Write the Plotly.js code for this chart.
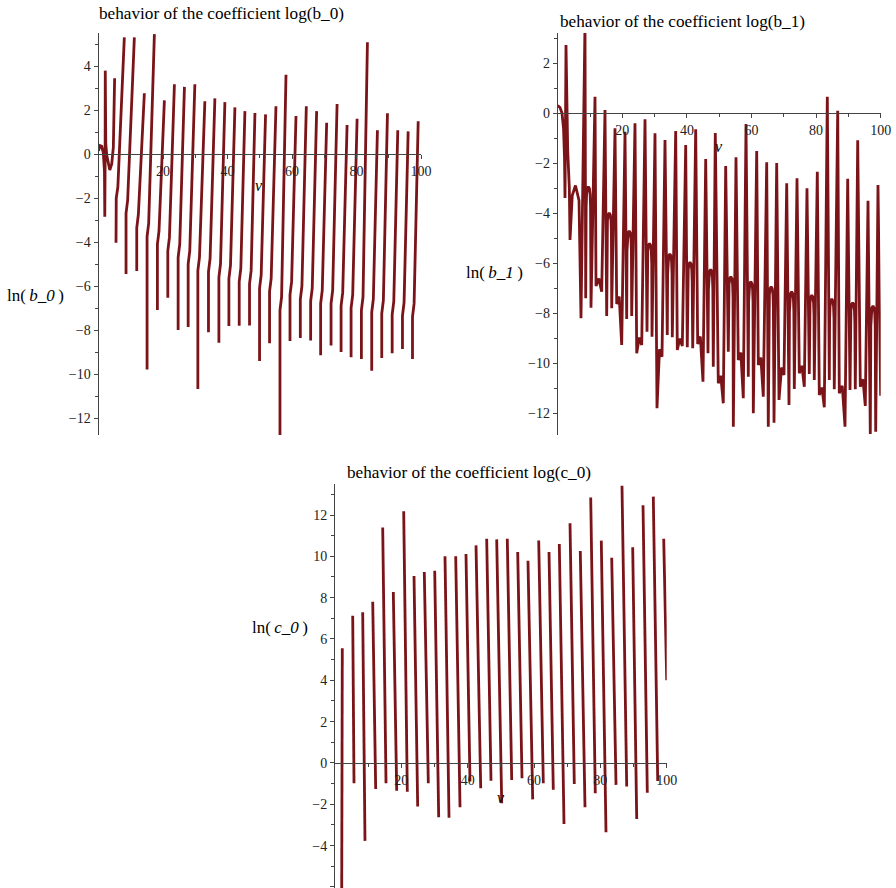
<!DOCTYPE html>
<html><head><meta charset="utf-8">
<script src="https://cdn.plot.ly/plotly-3.0.1.min.js"></script>
<style>html,body{margin:0;padding:0;background:#fff}#chart{width:896px;height:888px}</style>
</head><body><div id="chart"></div>
<script>
// ---- panel 1: ln(b_0) vs v (branches separated by null) ----
const b0_v = [0,0.5,1.0,1.5,1.85,1.95,2.05,2.1,2.25,2.55,3.0,3.5,4.1,4.6,5.0,null,
5.43,5.5,6.0,8.01,null, 8.54,8.54,9.04,11.12,null, 11.86,11.86,12.36,14.22,null,
15.06,15.06,15.56,17.33,null, 18.26,18.26,18.76,20.43,null, 21.49,21.49,21.99,23.54,null,
24.69,24.69,25.19,26.65,null, 27.80,27.80,28.30,29.88,null, 30.81,30.81,31.31,32.98,null,
34.10,34.10,34.60,36.09,null, 37.33,37.33,37.83,39.19,null, 40.43,40.43,40.93,42.30,null,
43.63,43.63,44.13,45.40,null, 46.83,46.83,47.33,48.51,null, 49.94,49.94,50.44,51.80,null,
53.04,53.04,53.54,55.03,null, 56.27,56.27,56.77,58.14,null, 59.38,59.38,59.88,61.24,null,
62.58,62.58,63.08,64.44,null, 65.78,65.78,66.28,67.64,null, 68.88,68.88,69.38,70.75,null,
72.11,72.11,72.61,73.98,null, 75.22,75.22,75.72,77.08,null, 78.32,78.32,78.82,80.19,null,
81.52,81.52,82.02,83.39,null, 84.72,84.72,85.22,86.49,null, 87.83,87.83,88.33,89.60,null,
91.06,91.06,91.56,92.80,null, 94.25,94.25,94.75,96.02,null, 97.36,97.36,97.86,99.13];
const b0_ln = [0.15,0.38,0.35,0.05,-0.8,-2.85,-0.5,3.79,0.5,-0.05,-0.45,-0.73,-0.45,0.3,3.44,null,
-4.03,-2.0,-1.5,5.3,null, -5.45,-2.7,-2.1,5.3,null, -5.32,-3.35,-2.75,2.76,null,
-9.79,-3.75,-3.15,5.45,null, -7.09,-4.1,-3.5,2.44,null, -6.53,-4.4,-3.8,3.17,null,
-8.0,-4.7,-4.1,3.05,null, -7.86,-5.0,-4.4,3.17,null, -10.68,-5.3,-4.7,2.4,null,
-8.1,-5.35,-4.75,2.53,null, -8.58,-5.6,-5.0,2.36,null, -7.82,-5.66,-5.06,2.12,null,
-7.8,-5.8,-5.2,1.95,null, -7.79,-5.9,-5.3,1.86,null, -9.41,-6.1,-5.5,1.8,null,
-8.6,-6.25,-5.65,2.17,null, -13.0,-7.1,-6.5,3.6,null, -8.5,-6.4,-5.8,1.73,null,
-8.36,-6.6,-6.0,2.17,null, -8.47,-6.7,-6.1,1.95,null, -9.14,-6.8,-6.2,1.42,null,
-8.7,-6.8,-6.2,2.27,null, -9.0,-6.9,-6.3,1.32,null, -9.24,-7.0,-6.4,1.6,null,
-9.32,-7.1,-6.5,5.08,null, -9.85,-7.2,-6.6,1.08,null, -9.27,-7.25,-6.65,1.85,null,
-9.06,-7.3,-6.7,1.08,null, -8.86,-7.35,-6.75,1.03,null, -9.32,-7.4,-6.8,1.49];

// ---- panel 2: ln(b_1) vs v (one continuous curve) ----
const b1_v = [0,0.71,1.33,1.80,2.11,2.26,2.57,3.1,3.6,3.81,4.5,5.5,6.6,
7.21,8.45,8.67,
8.81,8.94,9.14,9.49,9.84,10.04,10.17,
10.31,11.55,11.86, 12.74,
13.62,14.64,15.17,
15.27,15.40,15.60,15.95,16.30,16.50,16.63,
16.72,17.74,18.27, 19.04,
19.81,20.84,21.36,
21.46,21.59,21.79,22.14,22.49,22.69,22.82,
22.91,23.93,24.46, 25.24,
26.01,27.03,27.65,
27.75,27.88,28.08,28.43,28.78,28.98,29.11,
29.20,30.12,30.74, 31.52,
32.29,33.22,33.93,
34.03,34.16,34.36,34.71,35.06,35.26,35.39,
35.48,36.53,37.03, 37.8,
38.58,39.63,40.12,
40.28,40.41,40.61,40.96,41.31,41.51,41.64,
41.80,42.72,43.34, 44.16,
44.98,45.82,46.53,
46.67,46.80,47.00,47.35,47.70,47.90,48.03,
48.17,48.79,49.72, 50.5,
51.27,52.01,52.82,
52.92,53.05,53.25,53.60,53.95,54.15,54.28,
54.37,55.20,55.91, 56.7,
57.46,58.30,59.01,
59.11,59.24,59.44,59.79,60.14,60.34,60.47,
60.56,61.61,62.11, 62.9,
63.65,64.71,65.20,
65.41,65.54,65.74,66.09,66.44,66.64,66.77,
66.97,67.80,68.51, 69.3,
70.06,70.90,71.61,
71.75,71.88,72.08,72.43,72.78,72.98,73.11,
73.25,74.09,74.80, 75.6,
76.35,77.18,77.89,
77.99,78.12,78.32,78.67,79.02,79.22,79.35,
79.44,80.37,80.99, 81.8,
82.54,83.47,84.09,
84.18,84.31,84.51,84.86,85.21,85.41,85.54,
85.63,86.69,87.18, 88.1,
88.95,89.78,90.50,
90.64,90.77,90.97,91.32,91.67,91.87,92.00,
92.14,92.88,93.68, 94.5,
95.23,96.07,96.78,
96.94,97.07,97.27,97.62,97.97,98.17,98.30,
98.45,99.16,99.98];
const b1_ln = [0.3,0.22,0.0,-0.6,-1.8,-3.4,2.72,-1.5,-3.0,-5.08,-3.3,-2.9,-3.5,
-8.21,3.6,-7.41,
-3.75,-3.25,-3.03,-2.95,-3.03,-3.25,-3.75,
-7.79,0.65,-6.92, -6.62,
-7.15,0.12,-8.12,
-4.8,-4.3,-4.08,-4.0,-4.08,-4.3,-4.8,
-7.81,-0.61,-7.64, -7.34,
-9.28,-0.75,-8.24,
-5.52,-5.02,-4.8,-4.72,-4.8,-5.02,-5.52,
-8.12,-0.41,-9.61, -8.98,
-9.28,-0.25,-8.75,
-6.02,-5.52,-5.3,-5.22,-5.3,-5.52,-6.02,
-8.95,-0.81,-11.81, -9.45,
-9.75,-1.08,-8.88,
-6.44,-5.94,-5.72,-5.64,-5.72,-5.94,-6.44,
-8.97,-0.72,-9.48, -9.02,
-9.32,-1.28,-9.37,
-6.77,-6.27,-6.05,-5.97,-6.05,-6.27,-6.77,
-9.41,-0.65,-9.24, -8.94,
-10.75,-1.84,-9.61,
-7.06,-6.56,-6.34,-6.26,-6.34,-6.56,-7.06,
-10.15,-0.8,-10.81, -10.51,
-11.61,-2.12,-9.55,
-7.35,-6.85,-6.63,-6.55,-6.63,-6.85,-7.35,
-12.55,-1.77,-9.88, -9.58,
-11.41,-0.44,-10.55,
-7.55,-7.05,-6.83,-6.75,-6.83,-7.05,-7.55,
-12.01,-1.52,-10.08, -9.78,
-11.35,-1.97,-12.55,
-7.75,-7.25,-7.03,-6.95,-7.03,-7.25,-7.75,
-12.39,-2.0,-11.48, -10.18,
-10.48,-2.81,-11.68,
-7.95,-7.45,-7.23,-7.15,-7.23,-7.45,-7.95,
-11.04,-2.61,-10.41, -10.11,
-10.95,-3.01,-10.44,
-8.09,-7.59,-7.37,-7.29,-7.37,-7.59,-8.09,
-10.68,-2.35,-11.28, -10.98,
-11.77,0.65,-10.68,
-8.24,-7.74,-7.52,-7.44,-7.52,-7.74,-8.24,
-11.05,0.09,-11.21, -10.91,
-12.55,-2.63,-11.08,
-8.39,-7.89,-7.67,-7.59,-7.67,-7.89,-8.39,
-11.05,-1.09,-10.95, -10.65,
-11.72,-3.51,-12.84,
-8.52,-8.02,-7.80,-7.72,-7.80,-8.02,-8.52,
-12.75,-2.88,-11.31];

// ---- panel 3: ln(c_0) vs v ----
const c0_v = [2.20,2.02,null, 5.34,5.73,null, 8.35,9.04,null, 11.37,12.27,null, 14.38,15.38,null,
17.58,18.60,null, 20.71,21.80,null, 23.82,24.93,null, 26.92,28.13,null, 30.06,31.26,null,
33.16,34.37,null, 36.39,37.69,null, 39.49,40.70,null, 42.51,43.93,null, 45.73,47.03,null,
48.75,50.26,null, 51.94,53.27,null, 55.08,56.38,null, 58.18,59.60,null, 61.41,62.80,null,
64.52,65.81,null, 67.62,69.04,null, 70.85,72.14,null, 73.95,75.37,null, 77.09,78.47,null,
80.28,81.70,null, 83.42,84.72,null, 86.52,87.94,null, 89.75,90.96,null, 92.86,94.15,null,
95.96,97.29,null, 99.10,100.0];
const c0_ln = [5.55,-6.3,null, 7.13,-0.98,null, 7.29,-3.77,null, 7.80,-1.26,null, 11.40,-0.98,null,
8.27,-1.34,null, 12.18,-1.39,null, 9.05,-2.11,null, 9.24,-0.98,null, 9.30,-2.63,null,
10.0,-2.65,null, 10.0,-2.14,null, 10.11,-0.9,null, 10.53,-1.22,null, 10.85,-0.86,null,
10.82,-1.95,null, 10.85,-0.82,null, 10.21,-0.74,null, 9.79,-1.76,null, 10.77,-0.98,null,
10.21,-1.3,null, 10.6,-2.95,null, 11.6,-1.02,null, 10.26,-2.14,null, 12.85,-1.47,null,
10.76,-3.35,null, 9.93,-1.06,null, 13.42,-1.14,null, 10.44,-2.71,null, 12.47,-1.44,null,
12.89,-0.87,null, 10.85,4.0];

const xTickVals = [20,40,60,80,100];
const titles = ['behavior of the coefficient log(b_0)','behavior of the coefficient log(b_1)','behavior of the coefficient log(c_0)'];
const yLabels = ['ln(\u2009<i>b_0</i>\u2009)','ln(\u2009<i>b_1</i>\u2009)','ln(\u2009<i>c_0</i>\u2009)'];

const W = 896, H = 888;
const serif = 'Liberation Serif, Times New Roman, serif';
const curveColor = '#7b1418';
const px = x => x / W, py = y => 1 - y / H;

function trace(x, y, xa, ya) {
  return {x: x, y: y, xaxis: xa, yaxis: ya, type: 'scatter', mode: 'lines',
    line: {color: curveColor, width: 2.8}, connectgaps: false, hoverinfo: 'skip'};
}
const data = [trace(b0_v, b0_ln, 'x', 'y'), trace(b1_v, b1_ln, 'x2', 'y2'), trace(c0_v, c0_ln, 'x3', 'y3')];

function xAxis(dom, pos) {
  return {domain: dom, range: [0, 100], anchor: 'free', position: pos,
    showgrid: false, zeroline: false, showline: true, linecolor: '#444', linewidth: 1,
    ticks: 'outside', ticklen: 4, tickcolor: '#444', tickmode: 'array', tickvals: xTickVals,
    tickfont: {family: serif, size: 14, color: '#222'},
    minor: {tickmode: 'array', tickvals: [10,30,50,70,90], ticks: 'outside', ticklen: 3, tickcolor: '#444', showgrid: false},
    fixedrange: true};
}
function yAxis(dom, rng, xref) {
  return {domain: dom, range: rng, anchor: xref, showgrid: false, zeroline: false, showline: true,
    linecolor: '#444', linewidth: 1, ticks: 'outside', ticklen: 4, tickcolor: '#444',
    dtick: 2, tick0: 0, tickfont: {family: serif, size: 14, color: '#222'},
    minor: {dtick: 1, ticks: 'outside', ticklen: 3, tickcolor: '#444', showgrid: false},
    fixedrange: true};
}

const layout = {
  width: W, height: H, margin: {l: 0, r: 0, t: 0, b: 0}, showlegend: false,
  paper_bgcolor: '#fff', plot_bgcolor: 'rgba(0,0,0,0)',
  xaxis: xAxis([px(98.5), px(421)], py(154)),
  yaxis: yAxis([py(435), py(33)], [-12.77, 5.5], 'x'),
  xaxis2: xAxis([px(557.7), px(880.7)], py(113)),
  yaxis2: yAxis([py(435), py(33)], [-12.88, 3.2], 'x2'),
  xaxis3: xAxis([px(335), px(666.7)], py(763)),
  yaxis3: yAxis([py(888), py(484)], [-6.05, 13.5], 'x3'),
  annotations: [
    {text: titles[0], x: px(97), y: py(14), xanchor: 'left', yanchor: 'middle', font: {size: 17.2}},
    {text: titles[1], x: px(558), y: py(21), xanchor: 'left', yanchor: 'middle', font: {size: 17.2}},
    {text: titles[2], x: px(345), y: py(472), xanchor: 'left', yanchor: 'middle', font: {size: 17.2}},
    {text: yLabels[0], x: px(35), y: py(295), xanchor: 'center', yanchor: 'middle', font: {size: 17}},
    {text: yLabels[1], x: px(495), y: py(272), xanchor: 'center', yanchor: 'middle', font: {size: 17}},
    {text: yLabels[2], x: px(280), y: py(627), xanchor: 'center', yanchor: 'middle', font: {size: 17}},
    {text: '<i>v</i>', x: px(259), y: py(186), xanchor: 'center', yanchor: 'middle', font: {size: 16}},
    {text: '<i>v</i>', x: px(719), y: py(146), xanchor: 'center', yanchor: 'middle', font: {size: 16}},
    {text: '<i>v</i>', x: px(501), y: py(797), xanchor: 'center', yanchor: 'middle', font: {size: 16}}
  ].map(a => Object.assign({xref: 'paper', yref: 'paper', showarrow: false}, a,
    {font: Object.assign({family: serif, color: '#000'}, a.font)}))
};

Plotly.newPlot('chart', data, layout, {displayModeBar: false, staticPlot: true});
</script>
</body></html>
